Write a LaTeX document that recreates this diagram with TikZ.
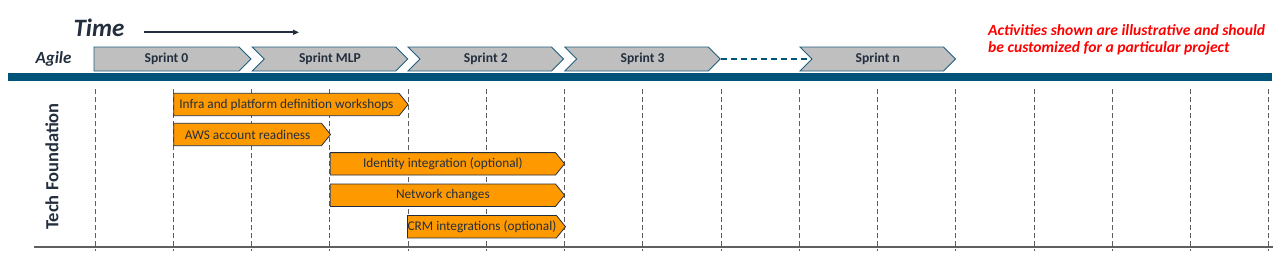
\documentclass[tikz,border=0pt]{standalone}
\usepackage{fontspec}
\setmainfont{Carlito}
\usetikzlibrary{arrows.meta,shapes.symbols}
\definecolor{tlInk}{HTML}{232F3E}
\definecolor{tlOrange}{HTML}{FF9900}
\definecolor{tlTeal}{HTML}{00547A}
\definecolor{tlEdge}{HTML}{1F5F7F}
\definecolor{tlSprint}{HTML}{BFBFBF}
\definecolor{tlGray}{HTML}{5F5F5F}
\definecolor{tlRed}{HTML}{FF0000}
\tikzset{
  every picture/.style={font=\fontsize{13.3}{15}\selectfont, text=tlInk},
  tl sprint/.style={shape=signal, signal to=east, signal pointer angle=90,
    draw=tlEdge, line width=0.9pt, fill=tlSprint, inner sep=0pt,
    minimum height=24pt, minimum width=155.5pt,
    font=\fontsize{13.6}{15}\selectfont\bfseries},
  tl notched/.style={signal from=west},
  tl task/.style={shape=signal, signal to=east, signal pointer angle=102,
    draw=tlInk, line width=0.8pt, fill=tlOrange, inner sep=0pt,
    minimum height=22.4pt},
  tl grid/.style={draw=tlGray, line width=0.9pt, dash pattern=on 5pt off 3pt},
  tl base/.style={draw=tlGray, line width=1.3pt},
  tl gap/.style={draw=tlTeal, line width=2pt, dash pattern=on 6pt off 4pt},
  tl arrow/.style={-{Triangle[length=6pt,width=5pt]}, draw=tlInk, line width=1.7pt}
}

\begin{document}
\begin{tikzpicture}[x=1pt,y=-1pt]
  \useasboundingbox (0,0) rectangle (1280,255);
  % sprint grid
  \foreach \i in {0,...,15}
    \draw[tl grid] ({95+78.25*\i},89) -- ({95+78.25*\i},251);
  \draw[tl base] (34,247) -- (1273,247);
  \fill[tlTeal] (8,72.7) rectangle (1272,80.7);

  % header
  \node[font=\fontsize{25}{30}\selectfont\bfseries\itshape] (time) at (99,28) {Time};
  \coordinate (timestart) at (144,32.3);
  \coordinate (timeend) at (299,32.3);
  \draw[tl arrow] (timestart) -- (timeend);
  \node[font=\fontsize{17}{20}\selectfont\bfseries\itshape, anchor=base, inner sep=0pt]
    (agile) at (53.5,63.3) {Agile};

  \node[tl sprint, minimum width=157pt] (s0) at (166.5,59) {Sprint 0};
  \node[tl sprint, tl notched] (smlp) at (329.9,59) {Sprint MLP};
  \node[tl sprint, tl notched] (s2) at (485.8,59) {Sprint 2};
  \node[tl sprint, tl notched] (s3) at (642.6,59) {Sprint 3};
  \node[tl sprint, tl notched] (sn) at (877.8,59) {Sprint n};
  \draw[tl gap] (s3.east) -- (sn.west);

  \node[font=\fontsize{15.6}{17}\selectfont\bfseries\itshape, text=tlRed, align=left,
    anchor=west, inner sep=0pt] (note) at (988,40.3)
    {Activities shown are illustrative and should\\be customized for a particular project};

  % tech foundation lane
  \node[font=\fontsize{18.5}{20}\selectfont\bfseries, rotate=90] (lane) at (52,166.5) {Tech Foundation};
  \node[tl task, minimum width=234.3pt] (infra) at (286.4,104.5) {Infra and platform definition workshops};
  \node[tl task, minimum width=156.8pt] (aws) at (247.6,134.5) {AWS account readiness};
  \node[tl task, minimum width=234.3pt] (identity) at (442.9,163.8) {Identity integration (optional)};
  \node[tl task, minimum width=234.3pt] (network) at (442.9,195.2) {Network changes};
  \node[tl task, minimum width=156pt] (crm) at (482,226.7) {CRM integrations (optional)};
\end{tikzpicture}
\end{document}
